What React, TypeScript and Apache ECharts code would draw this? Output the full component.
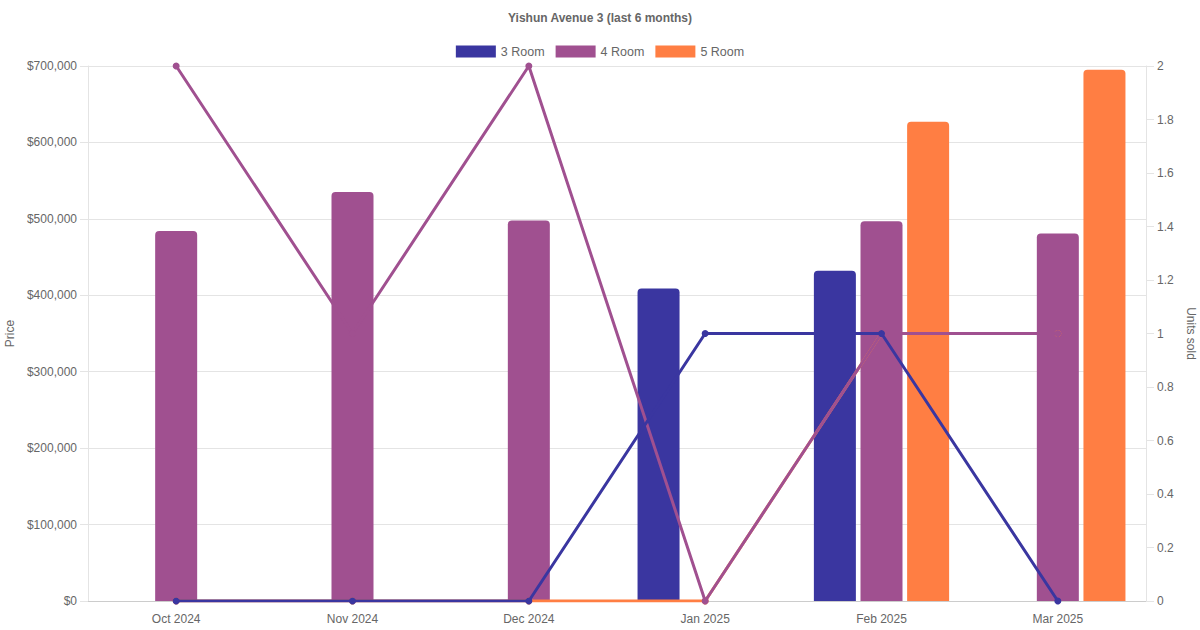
import React, { useEffect, useRef } from "react";
import * as echarts from "echarts";

const months = ["Oct 2024", "Nov 2024", "Dec 2024", "Jan 2025", "Feb 2025", "Mar 2025"];
const price3 = [null, null, null, 409000, 432000, null];
const price4 = [484000, 535000, 498000, null, 497000, 481000];
const price5 = [null, null, null, null, 627000, 695000];
const units3 = [0, 0, 0, 1, 1, 0];
const units4 = [2, 1, 2, 0, 1, 1];
const units5 = [0, 0, 0, 0, 1, 1];
const roomTypes = ["3 Room", "4 Room", "5 Room"];

const C3 = "#3a36a0";
const C4 = "#a05090";
const C5 = "#ff7e43";
const FONT = "Liberation Sans, Arial, Helvetica, sans-serif";
const TXT = "#666666";
const GRID = "#e4e4e4";

export default function App() {
  const ref = useRef<HTMLDivElement>(null);
  useEffect(() => {
    if (!ref.current) return;
    const chart = echarts.init(ref.current, null, { renderer: "svg" });
    const barCommon = {
      type: "bar",
      yAxisIndex: 0,
      barWidth: 42,
      barGap: "11%",
      z: 2,
    };
    const lineCommon = {
      type: "line",
      yAxisIndex: 1,
      symbol: "circle",
      symbolSize: 7,
      showSymbol: true,
    };
    chart.setOption({
      animation: false,
      textStyle: { fontFamily: FONT },
      title: {
        text: "Yishun Avenue 3 (last 6 months)",
        left: "center",
        top: 7,
        textStyle: { fontSize: 12, fontWeight: "bold", color: TXT, fontFamily: FONT },
      },
      legend: {
        data: roomTypes,
        top: 40,
        left: "center",
        icon: "rect",
        itemWidth: 40,
        itemHeight: 12,
        itemGap: 11,
        textStyle: { fontSize: 12.5, color: TXT, fontFamily: FONT },
      },
      grid: {
        left: 88,
        right: 54,
        top: 66,
        bottom: 29,
        containLabel: false,
        outerBoundsMode: "none",
      },
      xAxis: {
        type: "category",
        data: months,
        axisLine: { show: true, lineStyle: { color: "#cccccc" } },
        axisTick: { show: false },
        splitLine: { show: false },
        axisLabel: { color: TXT, fontSize: 12, margin: 12, fontFamily: FONT },
      },
      yAxis: [
        {
          type: "value",
          min: 0,
          max: 700000,
          interval: 100000,
          position: "left",
          name: "Price",
          nameLocation: "middle",
          nameGap: 69,
          nameTextStyle: { color: TXT, fontSize: 12, fontFamily: FONT },
          axisLine: { show: true, lineStyle: { color: GRID } },
          axisTick: { show: true, length: 8, lineStyle: { color: GRID } },
          splitLine: { show: true, lineStyle: { color: GRID } },
          axisLabel: {
            color: TXT,
            fontSize: 12,
            margin: 11,
            fontFamily: FONT,
            formatter: (v: number) => "$" + v.toLocaleString("en-US"),
          },
        },
        {
          type: "value",
          min: 0,
          max: 2,
          interval: 0.2,
          position: "right",
          name: "Units sold",
          nameLocation: "middle",
          nameGap: 34,
          nameRotate: -90,
          nameTextStyle: { color: TXT, fontSize: 12, fontFamily: FONT },
          axisLine: { show: true, lineStyle: { color: GRID } },
          axisTick: { show: true, length: 8, lineStyle: { color: GRID } },
          splitLine: { show: false },
          axisLabel: {
            color: TXT,
            fontSize: 12,
            margin: 11,
            fontFamily: FONT,
            formatter: (v: number) => String(Math.round(v * 10) / 10),
          },
        },
      ],
      series: [
        {
          ...barCommon,
          name: roomTypes[0],
          data: price3,
          itemStyle: { color: C3, borderRadius: [4, 4, 0, 0] },
        },
        {
          ...barCommon,
          name: roomTypes[1],
          data: price4,
          itemStyle: { color: C4, borderRadius: [4, 4, 0, 0] },
        },
        {
          ...barCommon,
          name: roomTypes[2],
          data: price5,
          itemStyle: { color: C5, borderRadius: [4, 4, 0, 0] },
        },
        {
          ...lineCommon,
          name: "5 Room units",
          data: units5,
          z: 3,
          itemStyle: { color: C5 },
          lineStyle: { color: C5, width: 3 },
        },
        {
          ...lineCommon,
          name: "4 Room units",
          data: units4,
          z: 4,
          itemStyle: { color: C4 },
          lineStyle: { color: C4, width: 3 },
        },
        {
          ...lineCommon,
          name: "3 Room units",
          data: units3,
          z: 5,
          itemStyle: { color: C3 },
          lineStyle: { color: C3, width: 3 },
        },
      ],
    });
    return () => chart.dispose();
  }, []);
  return (
    <div
      ref={ref}
      style={{ position: "fixed", left: 0, top: 0, width: 1200, height: 630, background: "#fff" }}
    />
  );
}
